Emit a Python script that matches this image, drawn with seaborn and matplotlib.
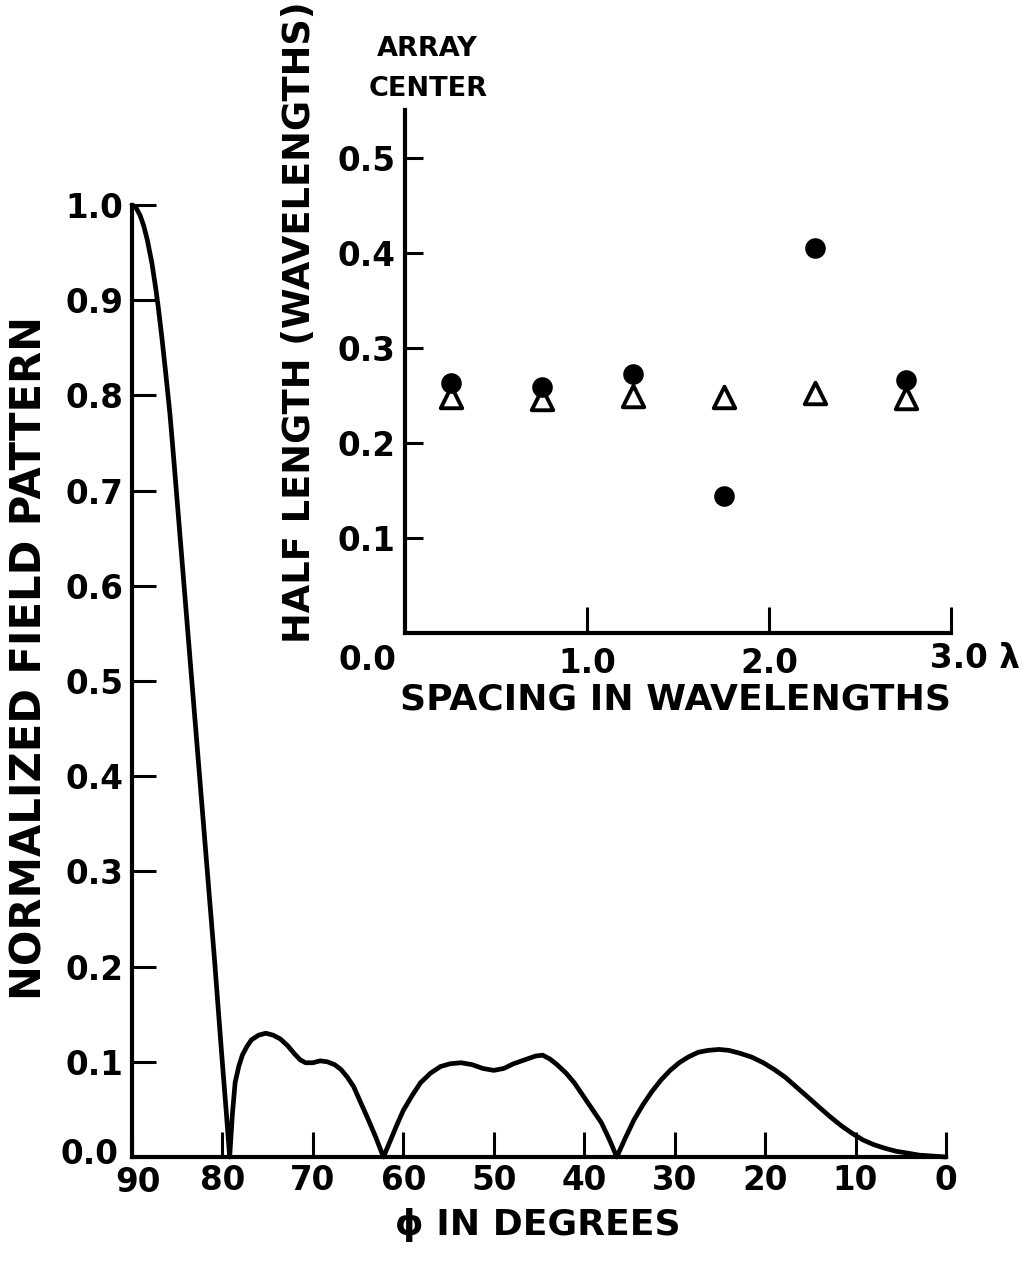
import matplotlib
matplotlib.use("Agg")
import matplotlib.pyplot as plt
import pandas as pd
import seaborn as sns

# Normalized field pattern versus elevation angle phi (degrees)
phi_deg = [90, 89.6, 89.1, 88.7, 88.3, 87.8, 87.4, 87.1, 86.7, 86.3, 85.8, 85.4,
           84.5, 83.6, 82.7, 81.8, 80.9, 80.1, 79.6, 79.2,
           78.9, 78.6, 78.2, 77.8, 77.3, 76.8, 76.0, 75.2, 74.4, 73.6, 72.8, 72.0,
           71.4, 70.8, 70.0, 69.2, 68.4, 67.6, 66.9, 66.2, 65.5, 64.8, 64.0, 63.1,
           62.2,
           61.4, 60.7, 60.0, 59.0, 58.1, 57.0, 55.9, 54.8, 53.6, 52.4, 51.2, 50.0,
           48.9, 47.8, 46.6, 45.4, 44.6, 43.8, 43.0, 42.0, 41.1, 40.1, 39.1, 38.1,
           37.2, 36.4,
           35.5, 34.5, 33.5, 32.5, 31.5, 30.5, 29.5, 28.5, 27.4, 26.3, 25.1, 24.0,
           22.8, 21.5, 20.2, 19.0, 17.8, 16.6, 15.4, 14.1, 12.9, 11.6, 10.4, 9.2,
           8.0, 6.7, 5.5, 4.2, 3.0, 1.5, 0]
field = [1.000, 0.998, 0.989, 0.978, 0.963, 0.939, 0.914, 0.893, 0.861, 0.826, 0.780, 0.735,
         0.630, 0.525, 0.420, 0.315, 0.210, 0.110, 0.050, 0.000,
         0.045, 0.078, 0.095, 0.107, 0.116, 0.123, 0.128, 0.130, 0.128, 0.124, 0.117, 0.108,
         0.102, 0.099, 0.099, 0.101, 0.100, 0.097, 0.092, 0.084, 0.074, 0.059, 0.042, 0.022,
         0.000,
         0.018, 0.034, 0.049, 0.065, 0.078, 0.088, 0.095, 0.098, 0.099, 0.097, 0.093, 0.091,
         0.093, 0.098, 0.102, 0.106, 0.107, 0.103, 0.097, 0.088, 0.078, 0.064, 0.050, 0.036,
         0.018, 0.000,
         0.019, 0.039, 0.055, 0.069, 0.081, 0.091, 0.099, 0.105, 0.110, 0.112, 0.113, 0.112,
         0.109, 0.105, 0.099, 0.092, 0.084, 0.074, 0.064, 0.053, 0.043, 0.033, 0.025, 0.018,
         0.013, 0.009, 0.006, 0.004, 0.002, 0.001, 0.000]

# Inset: half length versus element spacing
spacing = [0.25, 0.75, 1.25, 1.75, 2.25, 2.75]
half_length_dots = [0.263, 0.259, 0.272, 0.144, 0.405, 0.266]
half_length_tri = [0.248, 0.246, 0.249, 0.248, 0.252, 0.247]

main_xticks = [90, 80, 70, 60, 50, 40, 30, 20, 10, 0]
main_xlabels = ["90", "80", "70", "60", "50", "40", "30", "20", "10", "0"]
main_yticks = [0.0, 0.1, 0.2, 0.3, 0.4, 0.5, 0.6, 0.7, 0.8, 0.9, 1.0]
main_ylabels = ["0.0", "0.1", "0.2", "0.3", "0.4", "0.5", "0.6", "0.7", "0.8", "0.9", "1.0"]
inset_yticks = [0.1, 0.2, 0.3, 0.4, 0.5]
inset_ylabels = ["0.1", "0.2", "0.3", "0.4", "0.5"]
inset_xticks = [1.0, 2.0, 3.0]
inset_xlabels = ["1.0", "2.0", "3.0 \u03bb"]

sns.set_theme(style="white")
plt.rcParams["font.family"] = ["DejaVu Sans"]
plt.rcParams["font.weight"] = "bold"
for key in ["text.color", "axes.labelcolor", "xtick.color", "ytick.color"]:
    plt.rcParams[key] = "black"

W, H = 1030, 1263
fig = plt.figure(figsize=(W / 100, H / 100), dpi=100)
fig.patch.set_facecolor("white")


def fx(px):
    return px / W


def fy(py):
    return 1 - py / H


TICK_FS = 23.5

# ---- main pattern axes ----
ax = fig.add_axes([fx(132), fy(1157), (946 - 132) / W, (1157 - 205) / H])
ax.patch.set_alpha(0)
pattern = pd.DataFrame({"phi": phi_deg, "field": field})
sns.lineplot(data=pattern, x="phi", y="field", ax=ax, color="black",
             linewidth=3.4, estimator=None, sort=False)
for ln in ax.lines:
    ln.set_clip_on(False)
    ln.set_solid_joinstyle("round")
    ln.set_solid_capstyle("round")
ax.set_xlim(90, 0)
ax.set_ylim(0, 1.0)
ax.set_xticks(main_xticks)
# the corner labels are placed separately so they do not collide
ax.set_xticklabels([""] + main_xlabels[1:])
ax.set_yticks(main_yticks)
ax.set_yticklabels([""] + main_ylabels[1:])
ax.set_xlabel("")
ax.set_ylabel("")
for s in ["top", "right"]:
    ax.spines[s].set_visible(False)
for s in ["left", "bottom"]:
    ax.spines[s].set_linewidth(3)
    ax.spines[s].set_color("black")
ax.tick_params(axis="y", direction="in", length=17, width=2.2, labelsize=TICK_FS,
               pad=6, colors="black", left=True)
ax.tick_params(axis="x", direction="in", length=18, width=2.2, labelsize=TICK_FS,
               pad=5, colors="black", bottom=True)
fig.text(fx(90), fy(1154), main_ylabels[0], ha="center", va="center",
         fontsize=TICK_FS, fontweight="bold")
fig.text(fx(138), fy(1182), main_xlabels[0], ha="center", va="center",
         fontsize=TICK_FS, fontweight="bold")

fig.text(fx(30), fy(658), "NORMALIZED FIELD PATTERN", rotation=90,
         ha="center", va="center", fontsize=30, fontweight="bold")
fig.text(fx(538), fy(1225), "\u03d5 IN DEGREES", ha="center", va="center",
         fontsize=26, fontweight="bold")

# ---- inset axes ----
ax2 = fig.add_axes([fx(405), fy(633), (951 - 405) / W, (633 - 110) / H])
ax2.patch.set_alpha(0)
sns.scatterplot(x=spacing, y=half_length_tri, ax=ax2, marker="^", s=240,
                color="white", edgecolor="black", linewidth=2.8, zorder=3)
sns.scatterplot(x=spacing, y=half_length_dots, ax=ax2, marker="o", s=220,
                color="black", edgecolor="black", linewidth=0, zorder=4)
ax2.set_xlim(0, 3.0)
ax2.set_ylim(0, 0.55)
ax2.set_xticks(inset_xticks)
ax2.set_xticklabels(["1.0", "2.0", ""])
ax2.set_yticks(inset_yticks)
ax2.set_yticklabels(inset_ylabels)
for s in ["top", "right"]:
    ax2.spines[s].set_visible(False)
for s in ["left", "bottom"]:
    ax2.spines[s].set_linewidth(3)
    ax2.spines[s].set_color("black")
ax2.tick_params(axis="y", direction="in", length=13, width=2.2, labelsize=TICK_FS,
                pad=7, colors="black", left=True)
ax2.tick_params(axis="x", direction="in", length=19, width=2.2, labelsize=TICK_FS,
                pad=10, colors="black", bottom=True)

fig.text(fx(367), fy(660), "0.0", ha="center", va="center", fontsize=TICK_FS,
         fontweight="bold")
fig.text(fx(975), fy(658), inset_xlabels[2], ha="center", va="center",
         fontsize=TICK_FS, fontweight="bold")
fig.text(fx(676), fy(700), "SPACING IN WAVELENGTHS", ha="center", va="center",
         fontsize=26, fontweight="bold")
fig.text(fx(300), fy(322), "HALF LENGTH (WAVELENGTHS)", rotation=90,
         ha="center", va="center", fontsize=26.5, fontweight="bold")
fig.text(fx(427), fy(49), "ARRAY", ha="center", va="center", fontsize=19.5,
         fontweight="bold")
fig.text(fx(428), fy(89), "CENTER", ha="center", va="center", fontsize=19.5,
         fontweight="bold")

fig.savefig("out.png", dpi=100, facecolor="white")
